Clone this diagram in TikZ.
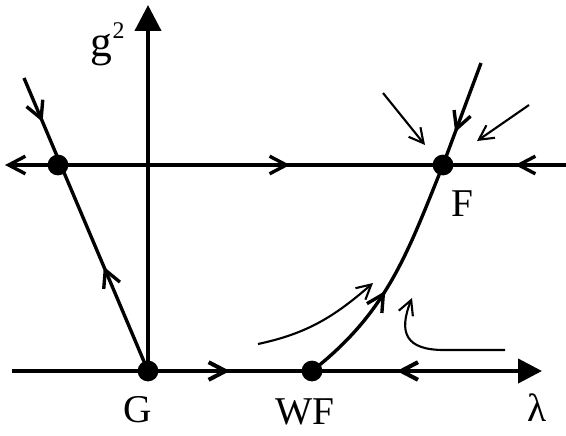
\documentclass[tikz,border=0pt]{standalone}
\usepackage{fontspec}
\setmainfont{Liberation Serif}
\usetikzlibrary{arrows.meta,decorations.markings}

\begin{document}
\begin{tikzpicture}[
    axis/.style={line width=2.9pt},
    flowline/.style={line width=2.4pt},
    thinarrow/.style={line width=1.5pt, -{Straight Barb[length=0.36cm,width=0.38cm]}},
    fwd/.style={postaction={decorate, decoration={markings,
        mark=at position #1 with {\arrow{Straight Barb[length=0.42cm,width=0.44cm]}}}}},
    bwd/.style={postaction={decorate, decoration={markings,
        mark=at position #1 with {\arrowreversed{Straight Barb[length=0.42cm,width=0.44cm]}}}}},
    fixpt/.style={circle, fill, inner sep=0pt, minimum size=0.52cm},
    lab/.style={font=\fontsize{28}{30}\selectfont, inner sep=0pt}
]
    \useasboundingbox (0,0) rectangle (14.15,10.875);

    \coordinate (Ltop) at (0.6,8.925);
    \coordinate (Ftop) at (12.025,9.3);
    \coordinate (Tl) at (0.125,6.75);
    \coordinate (Tr) at (14.15,6.75);
    \coordinate (Bl) at (0.3,1.6);
    \coordinate (Br) at (13.55,1.6);
    \coordinate (Yt) at (3.7,10.75);

    \node[fixpt] (G) at (3.7,1.6) {};
    \node[fixpt] (L) at (1.45,6.75) {};
    \node[fixpt] (F) at (11.075,6.75) {};
    \node[fixpt] (WF) at (7.8,1.6) {};

    % axes
    \draw[axis, fwd=0.411, bwd=0.726, -{Triangle[length=0.6cm,width=0.6cm]}] (Bl) -- (Br);
    \draw[axis, -{Triangle[length=0.65cm,width=0.65cm]}] (G.center) -- (Yt);

    % flow lines
    \draw[flowline, {Straight Barb[length=0.42cm,width=0.44cm]}-, fwd=0.508, bwd=0.909] (Tl) -- (Tr);
    \draw[flowline, fwd=0.356, bwd=0.85] (G.center) -- (Ltop);
    \draw[flowline, fwd=0.68] (Ftop) -- (F.center);
    \draw[flowline, fwd=0.44] (WF.center) to[out=38,in=248] (F.center);

    % thin arrows
    \coordinate (a1s) at (9.575,8.55);
    \coordinate (a1e) at (10.625,7.25);
    \coordinate (a2s) at (13.225,8.25);
    \coordinate (a2e) at (11.925,7.35);
    \coordinate (c1s) at (6.45,2.275);
    \coordinate (c1e) at (9.325,3.8);
    \coordinate (c2s) at (12.625,2.125);
    \coordinate (c2m) at (11.1,2.125);
    \coordinate (c2e) at (10.3,3.425);
    \draw[thinarrow] (a1s) -- (a1e);
    \draw[thinarrow] (a2s) -- (a2e);
    \draw[thinarrow] (c1s) to[out=12,in=221] (c1e);
    \draw[thinarrow] (c2s) -- (c2m) .. controls (10.15,2.125) and (9.95,2.55) .. (c2e);

    \node[lab, font=\fontsize{31}{33}\selectfont] (glab) at (2.69,9.775) {g\raisebox{0.42em}{\fontsize{17}{17}\selectfont 2}};
    \node[lab] (Flab) at (11.55,5.775) {F};
    \node[lab] (Glab) at (3.44,0.625) {G};
    \node[lab] (WFlab) at (7.625,0.575) {WF};
    \node[lab] (lamlab) at (13.425,0.675) {λ};
\end{tikzpicture}
\end{document}
